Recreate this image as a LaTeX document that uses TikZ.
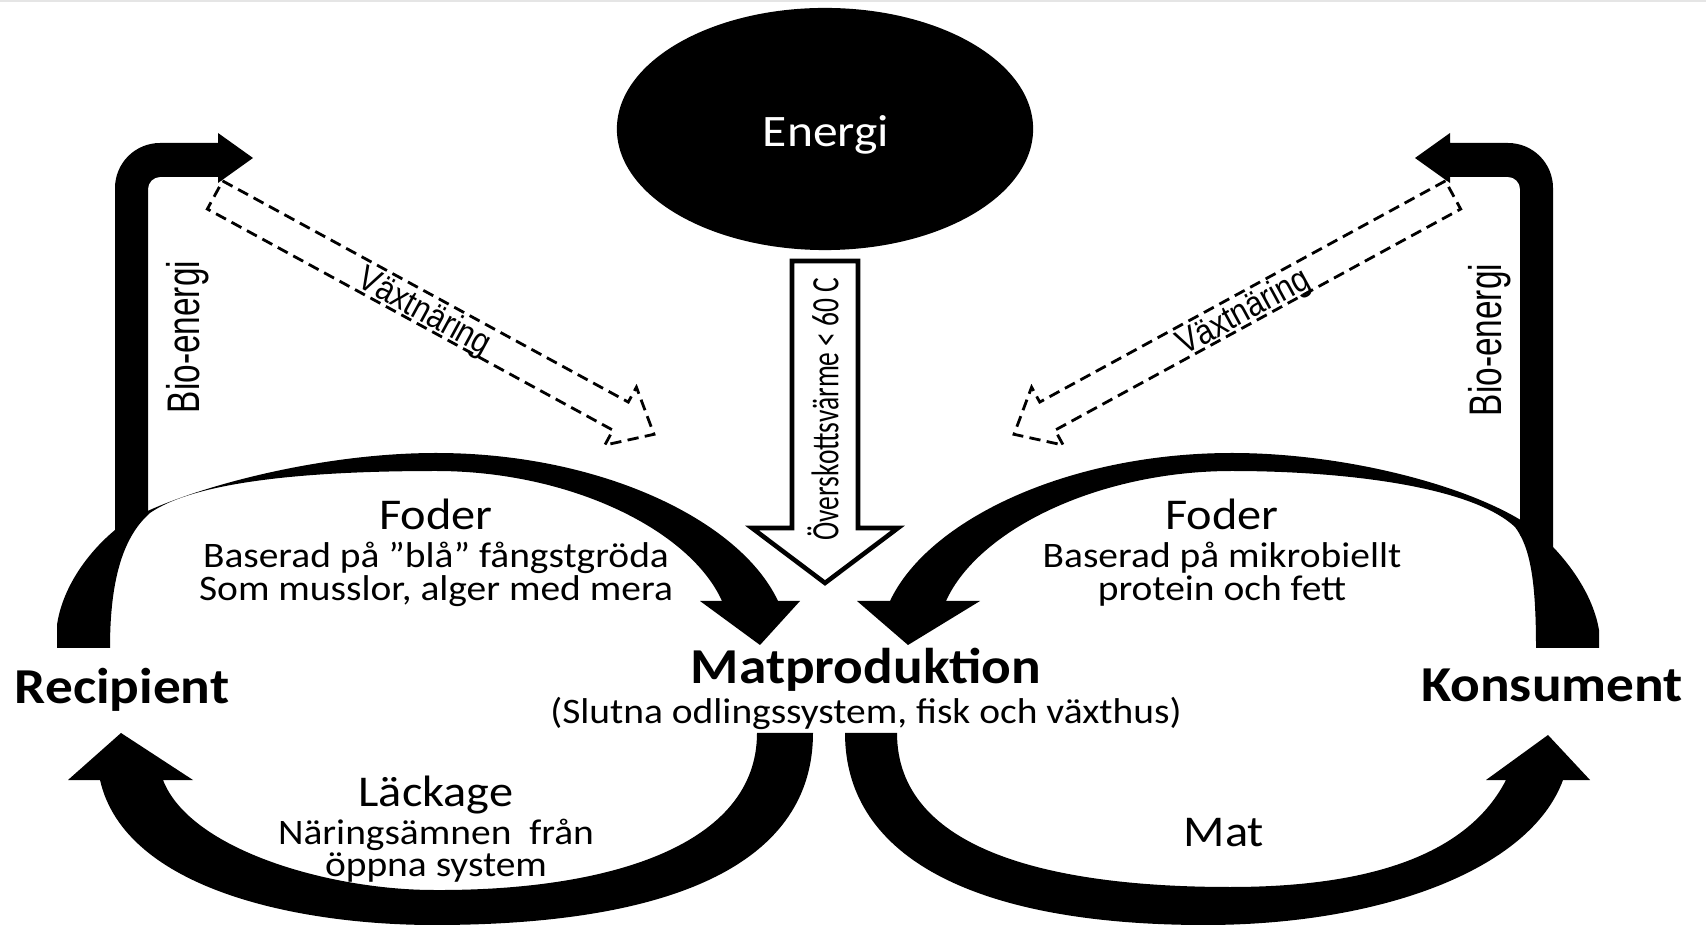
\documentclass[tikz,border=0pt]{standalone}
\usepackage{fontspec}
\setmainfont{Carlito}[FakeStretch=1.1]
\newfontfamily\calrot{Carlito}
\newfontfamily\arialf{Liberation Sans}
\usetikzlibrary{shapes.geometric}
\begin{document}
\begin{tikzpicture}[x=0.01cm, y=-0.01cm,
  bigl/.style={font=\fontsize{14.3}{17}\selectfont\bfseries, inner sep=0pt, anchor=base},
  headl/.style={font=\fontsize{12.5}{15}\selectfont, inner sep=0pt, anchor=base},
  bodyl/.style={font=\fontsize{10.2}{12}\selectfont, inner sep=0pt, anchor=base},
  dasharr/.style={draw=black, line width=0.8pt, dash pattern=on 3.2pt off 1.8pt},
  vertl/.style={font=\arialf\fontsize{13}{15}\selectfont, rotate=90, inner sep=0pt},
  diagl/.style={font=\arialf\fontsize{10}{12}\selectfont, inner sep=0pt},
]
\useasboundingbox (0,0) rectangle (1706,925);
\fill[black!10] (0,0) rectangle (1706,2.5);

% ---------- left ring ----------
% upper arc: Recipient -> Matproduktion
\fill (57,648) -- (57,625) .. controls (62,590) and (85,555) .. (115,530)
  .. controls (150,500) and (300,453) .. (436,453)
  .. controls (600,453) and (740,520) .. (778,601)
  -- (800,601) -- (760,645) -- (700,601) -- (722,601)
  .. controls (690,530) and (570,471) .. (436,471)
  .. controls (330,471) and (200,478) .. (150,513)
  .. controls (125,535) and (110,575) .. (110,648) -- cycle;
% lower arc: Matproduktion -> Recipient
\fill (813,733) .. controls (813,860) and (680,925) .. (434,925)
  .. controls (300,925) and (125,890) .. (100,780)
  -- (68,780) -- (121,733) -- (193,780) -- (163,780)
  .. controls (190,850) and (330,890) .. (434,890)
  .. controls (610,891) and (757,845) .. (757,733) -- cycle;
% bio-energy arrow (left)
\fill (115,540) -- (115,188) .. controls (115,163.2) and (135.1,143) .. (160,143)
  -- (218,143) -- (218,133) -- (253,158) -- (218,183) -- (218,177) -- (160,177)
  .. controls (153.4,177) and (148,182.4) .. (148,189) -- (148,512) -- cycle;
% dashed nutrient arrow (left)
\begin{scope}[shift={(215,195)}, rotate=-28.6]
  \draw[dasharr] (0,-16) -- (462,-16) -- (462,-33) -- (500,0) -- (462,33) -- (462,16) -- (0,16) -- cycle;
\end{scope}

% ---------- right ring ----------
% upper arc: Konsument -> Matproduktion
\fill (1599,648) -- (1599,630) .. controls (1594,600) and (1575,570) .. (1553,547)
  .. controls (1518,500) and (1368,453) .. (1232,453)
  .. controls (1068,453) and (928,520) .. (890,601)
  -- (857,601) -- (908,645) -- (980,601) -- (946,601)
  .. controls (978,530) and (1098,471) .. (1232,471)
  .. controls (1338,471) and (1470,485) .. (1515,527)
  .. controls (1530,547) and (1536,580) .. (1536,648) -- cycle;
% lower arc: Matproduktion -> Konsument
\fill (845,733) .. controls (845,860) and (980,925) .. (1205,925)
  .. controls (1380,925) and (1530,870) .. (1563,780)
  -- (1590,780) -- (1548,735) -- (1486,780) -- (1506,780)
  .. controls (1470,850) and (1380,887) .. (1230,887)
  .. controls (1050,887) and (897,850) .. (897,733) -- cycle;
% bio-energy arrow and dashed nutrient arrow (right, mirrored)
\begin{scope}[shift={(1668,0)}, xscale=-1]
  \fill (115,570) -- (115,188) .. controls (115,163.2) and (135.1,143) .. (160,143)
    -- (218,143) -- (218,133) -- (253,158) -- (218,183) -- (218,177) -- (160,177)
    .. controls (153.4,177) and (148,182.4) .. (148,189) -- (148,535) -- cycle;
  \begin{scope}[shift={(215,195)}, rotate=-28.6]
    \draw[dasharr] (0,-16) -- (462,-16) -- (462,-33) -- (500,0) -- (462,33) -- (462,16) -- (0,16) -- cycle;
  \end{scope}
\end{scope}

% ---------- energy ----------
\node (energi) [ellipse, fill=black, minimum width=4.16cm, minimum height=2.42cm, inner sep=0pt] at (825,129) {};
\node (energitext) [text=white, font=\fontsize{12.8}{15}\selectfont, inner sep=0pt] at (826,135) {Energi};

% waste heat arrow
\draw[line width=1.3pt, fill=white] (792,261) -- (858,261) -- (858,528) -- (898,528)
  -- (825,583) -- (752,528) -- (792,528) -- cycle;
\node (heat) [font=\calrot\fontsize{11}{13}\selectfont, rotate=90, inner sep=0pt] at (823,409)
  {\scalebox{0.71}[1]{Överskottsvärme < 60 C}};

% ---------- labels ----------
\node[headl] (foderL) at (436,530) {Foder};
\node[bodyl] (fodL1) at (436,568) {Baserad på ”blå” fångstgröda};
\node[bodyl] (fodL2) at (436,601) {Som musslor, alger med mera};
\node[headl] (foderR) at (1222,530) {Foder};
\node[bodyl] (fodR1) at (1222,568) {Baserad på mikrobiellt};
\node[bodyl] (fodR2) at (1222,601) {protein och fett};
\node[bigl] (matprod) at (866,684) {Matproduktion};
\node[bodyl] (slutna) at (866,724) {(Slutna odlingssystem, fisk och växthus)};
\node[bigl] (recipient) at (122,704) {Recipient};
\node[bigl] (konsument) at (1552,702) {Konsument};
\node[headl] (lackage) at (436,806) {Läckage};
\node[bodyl] (lack1) at (436,844) {Näringsämnen~ från};
\node[bodyl] (lack2) at (436,876) {öppna system};
\node[headl] (mat) at (1224,846) {Mat};
\node[vertl] (bioL) at (188,337) {\scalebox{0.73}[1]{Bio-energi}};
\node[vertl] (bioR) at (1490,340) {\scalebox{0.73}[1]{Bio-energi}};
\node[diagl, rotate=-28.6] (vaxtL) at (424,313) {\scalebox{0.87}[1]{Växtnäring}};
\node[diagl, rotate=28.6] (vaxtR) at (1244,313) {\scalebox{0.87}[1]{Växtnäring}};
\end{tikzpicture}
\end{document}
